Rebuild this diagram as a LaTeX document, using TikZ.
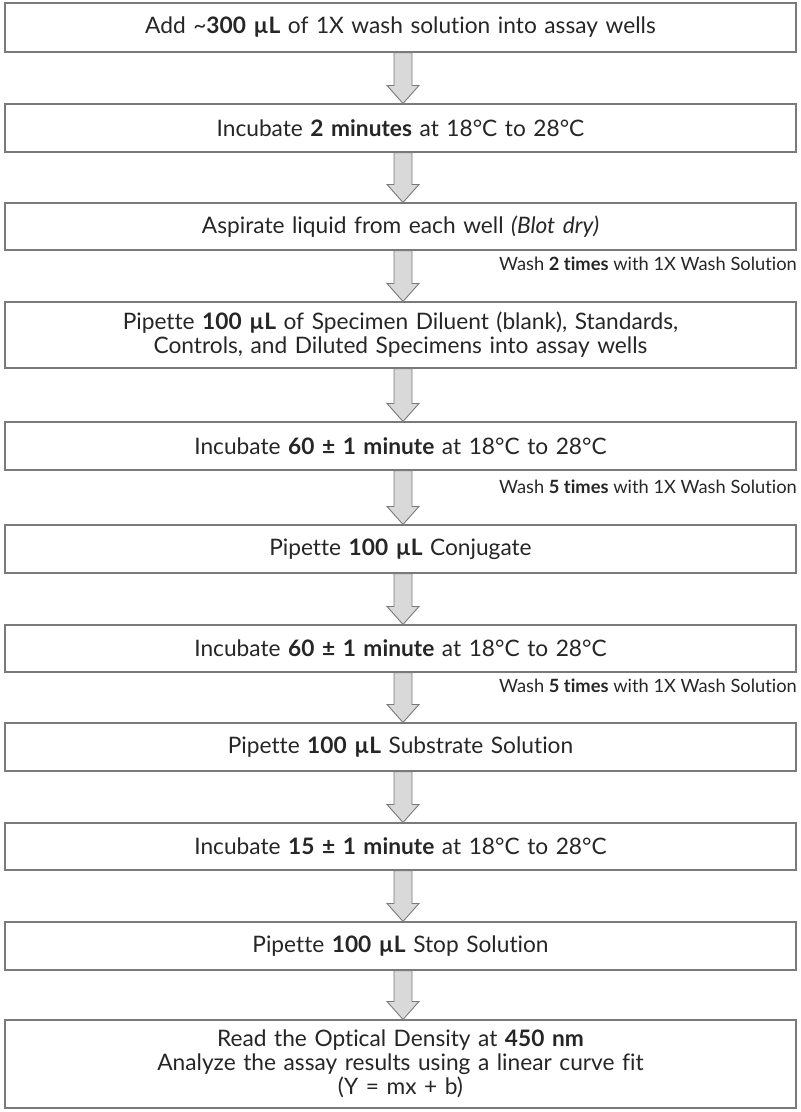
\documentclass[tikz,border=0pt]{standalone}
\usepackage{fontspec}
\setmainfont{Lato}[Ligatures={NoCommon,NoRare,NoContextual},Contextuals={NoAlternate}]
\usetikzlibrary{calc}
\definecolor{txt}{HTML}{262626}
\definecolor{edge}{HTML}{7A7A7A}
\definecolor{afill}{HTML}{D9D9D9}
\tikzset{
  stepbox/.style={draw=edge, line width=1.1pt, fill=white, minimum width=791pt, text width=780pt, align=center, inner sep=0pt, font=\fontsize{22.7}{24}\selectfont, text=txt},
  washlbl/.style={anchor=east, inner sep=0pt, font=\fontsize{18.3}{20}\selectfont, text=txt},
  arrowst/.style={draw=edge, fill=afill, line width=0.9pt, line join=miter}
}
\newcommand\fatarrow[2]{%
  \draw[arrowst] let \p1=(#1.south), \p2=(#2.north) in
    (394pt,\y1) -- (412pt,\y1) -- (412pt,{\y2+18pt}) -- (419pt,{\y2+18pt}) -- (403pt,\y2)
    -- (387pt,{\y2+18pt}) -- (394pt,{\y2+18pt}) -- cycle;}
\begin{document}
\begin{tikzpicture}[x=1pt,y=-1pt]
\useasboundingbox (0,0) rectangle (801,1112);
\node[stepbox, minimum height=49pt] (b1) at (400.5,27.5) {Add \textasciitilde\textbf{300 µL} of 1X wash solution into assay wells};
\node[stepbox, minimum height=48pt] (b2) at (400.5,128) {Incubate \textbf{2 minutes} at 18°C to 28°C};
\node[stepbox, minimum height=47pt] (b3) at (400.5,226.5) {Aspirate liquid from each well \textit{(Blot dry)}};
\node[stepbox, minimum height=66pt] (b4) at (400.5,335) {Pipet{}te \textbf{100 µL} of Specimen Diluent (blank), Standards,\\ Controls, and Diluted Specimens into assay wells};
\node[stepbox, minimum height=48pt] (b5) at (400.5,446) {Incubate \textbf{60 ± 1 minute} at 18°C to 28°C};
\node[stepbox, minimum height=48pt] (b6) at (400.5,549) {Pipet{}te \textbf{100 µL} Conjugate};
\node[stepbox, minimum height=47pt] (b7) at (400.5,648.5) {Incubate \textbf{60 ± 1 minute} at 18°C to 28°C};
\node[stepbox, minimum height=48pt] (b8) at (400.5,747) {Pipet{}te \textbf{100 µL} Substrate Solut{}ion};
\node[stepbox, minimum height=47pt] (b9) at (400.5,846.5) {Incubate \textbf{15 ± 1 minute} at 18°C to 28°C};
\node[stepbox, minimum height=48pt] (b10) at (400.5,946) {Pipet{}te \textbf{100 µL} Stop Solut{}ion};
\node[stepbox, minimum height=88pt] (b11) at (400.5,1064) {Read the Opt{}ical Density at \textbf{450 nm}\\ Analyze the assay results using a linear curve f{}it\\ (Y = mx + b)};
\fatarrow{b1}{b2}
\fatarrow{b2}{b3}
\fatarrow{b3}{b4}
\fatarrow{b4}{b5}
\fatarrow{b5}{b6}
\fatarrow{b6}{b7}
\fatarrow{b7}{b8}
\fatarrow{b8}{b9}
\fatarrow{b9}{b10}
\fatarrow{b10}{b11}
\node[washlbl] (w1) at (797,264) {Wash \textbf{2 times} with 1X Wash Solut{}ion};
\node[washlbl] (w2) at (797,487) {Wash \textbf{5 times} with 1X Wash Solut{}ion};
\node[washlbl] (w3) at (797,686) {Wash \textbf{5 times} with 1X Wash Solut{}ion};
\end{tikzpicture}
\end{document}
